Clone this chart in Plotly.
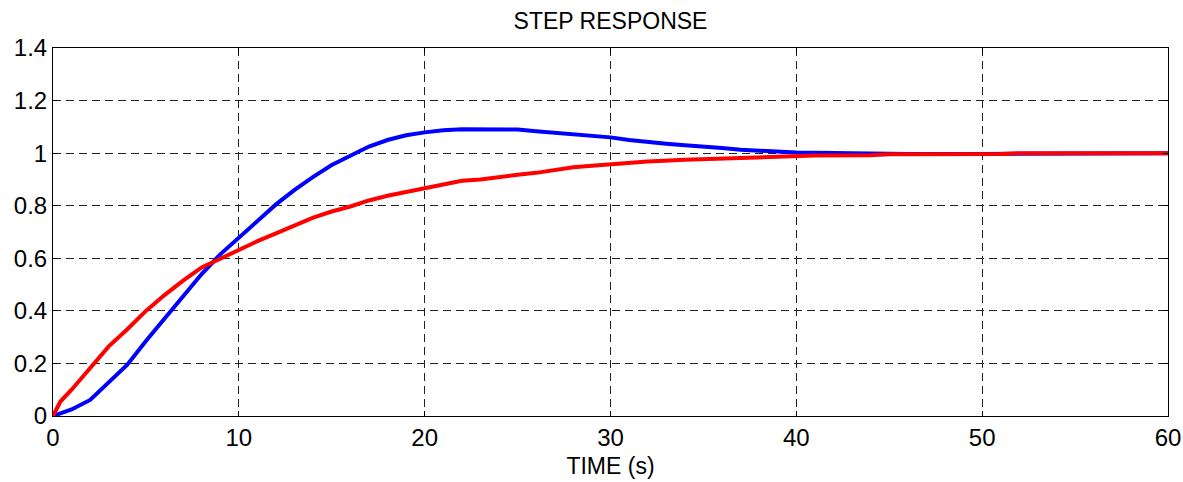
import plotly.graph_objects as go

# Step response of two closed-loop systems
time_blue = [0, 1, 2, 3, 4, 5, 6, 7, 8, 9, 10, 11, 12, 13, 14, 15, 16, 17, 18, 19,
             20, 21, 22, 23, 24, 25, 26, 27, 28, 29, 30, 31, 32, 33, 34, 35, 36, 37,
             38, 39, 40, 42, 44, 46, 50, 53, 55, 60]
resp_blue = [0, 0.025, 0.061, 0.13, 0.195, 0.285, 0.37, 0.46, 0.54, 0.615, 0.68,
             0.74, 0.805, 0.86, 0.91, 0.955, 0.99, 1.025, 1.05, 1.068, 1.079, 1.087,
             1.091, 1.091, 1.091, 1.09, 1.083, 1.077, 1.07, 1.065, 1.06, 1.05, 1.042,
             1.036, 1.03, 1.026, 1.02, 1.013, 1.009, 1.006, 1.002, 1.001, 0.998,
             0.997, 0.997, 0.998, 1.0, 1.0]

time_red = [0, 0.4, 1, 2, 3, 4, 5, 6, 7, 8, 9, 10, 11, 12, 13, 14, 15, 16, 17, 18,
            19, 20, 21, 22, 23, 24, 25, 26, 27, 28, 29, 30, 32, 34, 36, 38, 40, 41,
            44, 45, 51, 52, 60]
resp_red = [0, 0.055, 0.1, 0.18, 0.265, 0.33, 0.4, 0.46, 0.515, 0.565, 0.598, 0.635,
            0.665, 0.695, 0.725, 0.755, 0.778, 0.797, 0.82, 0.838, 0.852, 0.866, 0.882,
            0.895, 0.9, 0.91, 0.918, 0.925, 0.935, 0.946, 0.952, 0.958, 0.968, 0.975,
            0.98, 0.985, 0.987, 0.991, 0.992, 0.996, 0.997, 1.0, 1.0]

x_ticks = [0, 10, 20, 30, 40, 50, 60]
y_ticks = [0, 0.2, 0.4, 0.6, 0.8, 1, 1.2, 1.4]
y_tick_text = ["0", "0.2", "0.4", "0.6", "0.8", "1", "1.2", "1.4"]

fig = go.Figure()
fig.add_trace(go.Scatter(x=time_blue, y=resp_blue, mode="lines",
                         line=dict(color="#0000FF", width=4), showlegend=False))
fig.add_trace(go.Scatter(x=time_red, y=resp_red, mode="lines",
                         line=dict(color="#FF0000", width=4), showlegend=False))

font_family = "Liberation Sans, Arial, sans-serif"
axis_common = dict(
    showline=True, linecolor="black", linewidth=1, mirror="ticks",
    ticks="inside", ticklen=5, tickcolor="black", automargin=False,
    showgrid=True, gridcolor="#222222", gridwidth=1, griddash="8px,5px",
    zeroline=False, tickfont=dict(family=font_family, size=24, color="black"),
)

fig.update_layout(
    width=1183, height=482,
    margin=dict(l=53, r=15, t=48, b=66),
    paper_bgcolor="white", plot_bgcolor="white",
    title=dict(text="STEP RESPONSE", x=0.5, xref="paper", y=1 - 21 / 482,
               yref="container", xanchor="center", yanchor="middle",
               font=dict(family=font_family, size=23, color="black")),
    xaxis=dict(range=[0, 60], tickvals=x_ticks, ticktext=[str(v) for v in x_ticks],
               title=dict(text="TIME (s)", standoff=8,
                          font=dict(family=font_family, size=23, color="black")),
               **axis_common),
    yaxis=dict(range=[0, 1.4], tickvals=y_ticks, ticktext=y_tick_text, **axis_common),
)

fig.write_html("out.html")
